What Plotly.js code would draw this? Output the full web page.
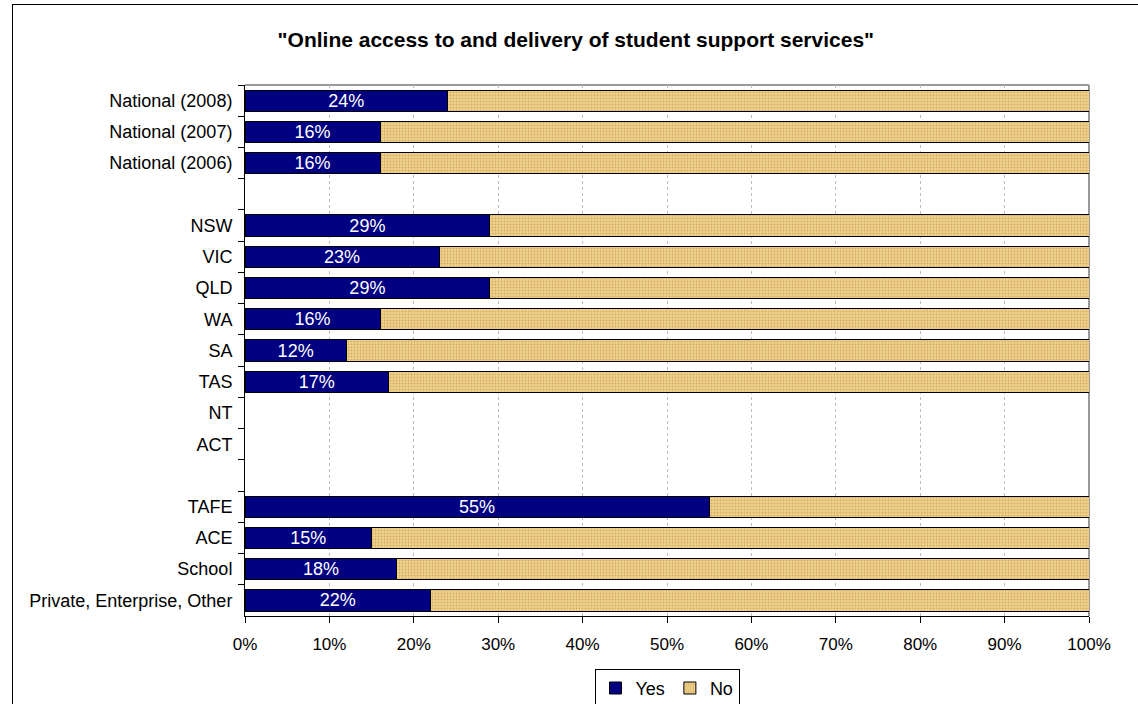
<!DOCTYPE html>
<html>
<head>
<meta charset="utf-8">
<script src="https://cdn.plot.ly/plotly-3.0.1.min.js"></script>
<style>
  html, body { margin:0; padding:0; background:#fff; overflow:hidden; }
  #frame { position:absolute; left:12px; top:4px; width:1200px; height:800px; border:1.5px solid #000; box-sizing:border-box; pointer-events:none; z-index:5; }
  #chart { position:absolute; left:0; top:0; width:1138px; height:704px; }
</style>
</head>
<body>
<div id="chart"></div>
<div id="frame"></div>
<script>
const categories = [
  "National (2008)", "National (2007)", "National (2006)", "\u00a0",
  "NSW", "VIC", "QLD", "WA", "SA", "TAS", "NT", "ACT", "\u00a0\u00a0",
  "TAFE", "ACE", "School", "Private, Enterprise, Other"
];
const yesValues = [24, 16, 16, null, 29, 23, 29, 16, 12, 17, null, null, null, 55, 15, 18, 22];
const noValues  = [76, 84, 84, null, 71, 77, 71, 84, 88, 83, null, null, null, 45, 85, 82, 78];
const xTickVals = [0, 10, 20, 30, 40, 50, 60, 70, 80, 90, 100];
const xTickText = ["0%", "10%", "20%", "30%", "40%", "50%", "60%", "70%", "80%", "90%", "100%"];

const FONT = "Arial, 'Liberation Sans', sans-serif";

const traces = [
  {
    type: "bar", orientation: "h", name: "Yes",
    y: categories, x: yesValues,
    marker: { color: "#000080", line: { color: "#000", width: 1 } },
    text: yesValues.map(v => v == null ? "" : v + "%"),
    textposition: "inside", insidetextanchor: "middle", constraintext: "none",
    textfont: { color: "#fff", size: 18, family: FONT },
    hoverinfo: "x+y"
  },
  {
    type: "bar", orientation: "h", name: "No",
    y: categories, x: noValues,
    marker: {
      color: "#EFD089",
      line: { color: "#000", width: 1 },
      pattern: { shape: ".", bgcolor: "#F1D38D", fgcolor: "#D2AE66", size: 3, solidity: 0.35 }
    },
    textposition: "none",
    hoverinfo: "x+y"
  }
];

const layout = {
  width: 1138, height: 704,
  paper_bgcolor: "#fff", plot_bgcolor: "#fff",
  margin: { l: 245, r: 49, t: 85, b: 88, autoexpand: false },
  barmode: "stack", bargap: 0.32,
  font: { family: FONT, size: 17, color: "#000" },
  title: {
    text: "<b>\"Online access to and delivery of student support services\"</b>",
    font: { family: FONT, size: 21, color: "#000" },
    xref: "container", x: 0.506, xanchor: "center",
    yref: "container", y: 0.943, yanchor: "middle"
  },
  xaxis: {
    range: [0, 100], tickvals: xTickVals, ticktext: xTickText,
    showgrid: true, gridcolor: "#BDBDBD", griddash: "3px,3px", gridwidth: 1,
    showline: true, linecolor: "#000", linewidth: 1,
    ticks: "outside", ticklen: 6, tickcolor: "#000", tickwidth: 1,
    ticklabelstandoff: 7,
    tickfont: { size: 17, family: FONT, color: "#000" },
    zeroline: false, fixedrange: true, automargin: false
  },
  yaxis: {
    type: "category", autorange: "reversed",
    tickson: "boundaries",
    showgrid: false, showline: true, linecolor: "#000", linewidth: 1,
    ticks: "outside", ticklen: 6, tickcolor: "#000", tickwidth: 1,
    ticklabelstandoff: 8,
    tickfont: { size: 18, family: FONT, color: "#000" },
    fixedrange: true, automargin: false
  },
  shapes: [
    { type: "line", xref: "paper", yref: "paper", x0: 0, x1: 1, y0: 1, y1: 1, line: { color: "#999", width: 2 }, layer: "below" },
    { type: "line", xref: "paper", yref: "paper", x0: 1, x1: 1, y0: 0, y1: 1, line: { color: "#999", width: 2 }, layer: "below" }
  ],
  showlegend: true,
  legend: {
    orientation: "h", x: 0.5, xanchor: "center", xref: "paper",
    yref: "container", y: 0.05, yanchor: "top",
    bordercolor: "#000", borderwidth: 1, bgcolor: "#fff",
    font: { size: 18, family: FONT, color: "#000" },
    itemwidth: 30, traceorder: "normal"
  }
};

Plotly.newPlot("chart", traces, layout, { displayModeBar: false, staticPlot: true });
</script>
</body>
</html>
